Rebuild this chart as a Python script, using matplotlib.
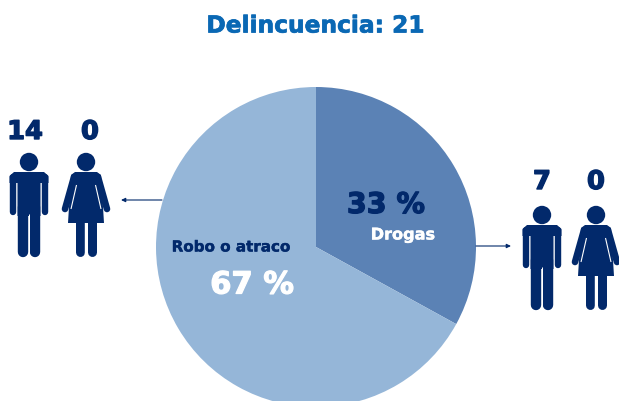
#!/usr/bin/env python3

import matplotlib
matplotlib.use('Agg')
import matplotlib.pyplot as plt
import matplotlib.patheffects as pe
from matplotlib.patches import Circle, Polygon

W = 619
H = 401
NAVY = '#02296b'

title = 'Delincuencia: 21'
categories = ['Drogas', 'Robo o atraco']
shares = [33, 67]
men = [7, 14]
women = [0, 0]
slice_colors = ['#5b82b5', '#95b6d8']

FONT = 'DejaVu Sans'


def py(y):
    # picture pixels run downwards, the axes upwards
    return H - y


def stroke(ax, pts, width, color=NAVY, cap='round'):
    ax.plot([p[0] for p in pts], [py(p[1]) for p in pts], color=color,
            lw=width * 0.72, solid_capstyle=cap, zorder=5)


def draw_man(ax, cx, cy):
    ax.add_patch(Circle((cx, py(cy)), 9.2, fc=NAVY, ec='none', zorder=5))
    torso = [(-15, 10), (15, 10), (19.5, 14), (19.5, 21), (11.5, 21), (11.5, 54), (-11.5, 54), (-11.5, 21), (-19.5, 21), (-19.5, 14)]
    ax.add_patch(Polygon([(cx + x, py(cy + y)) for x, y in torso], fc=NAVY, ec='none', zorder=5))
    for side in (-1, 1):
        stroke(ax, [(cx + side * 16.3, cy + 15), (cx + side * 16.3, cy + 50)], 6.4)
        stroke(ax, [(cx + side * 5.7, cy + 45), (cx + side * 5.7, cy + 90)], 10.4)
    stroke(ax, [(cx, cy + 52), (cx, cy + 96)], 1.0, color='white', cap='butt')


def draw_woman(ax, cx, cy):
    ax.add_patch(Circle((cx, py(cy)), 9.2, fc=NAVY, ec='none', zorder=5))
    dress = [(-11, 10), (11, 10), (15, 13), (18, 61), (-18, 61), (-15, 13)]
    ax.add_patch(Polygon([(cx + x, py(cy + y)) for x, y in dress], fc=NAVY, ec='none', zorder=5))
    for side in (-1, 1):
        stroke(ax, [(cx + side * 12, cy + 15), (cx + side * 21, cy + 47)], 6.6)
        stroke(ax, [(cx + side * 5.8, cy + 55), (cx + side * 5.8, cy + 90)], 9)
        stroke(ax, [(cx + side * 9.5, cy + 23), (cx + side * 15, cy + 47)], 1.1, color='white', cap='butt')
    stroke(ax, [(cx, cy + 61), (cx, cy + 96)], 2.4, color='white', cap='butt')


def arrow(ax, x0, x1, y):
    ax.annotate('', xy=(x1, py(y)), xytext=(x0, py(y)),
                arrowprops=dict(arrowstyle='-|>,head_width=0.12,head_length=0.25', color=NAVY,
                                lw=0.8, shrinkA=0, shrinkB=0))


def label(ax, x, y, s, size, color, heavy=0.5):
    t = ax.text(x, py(y), s, fontsize=size, color=color, fontweight='bold',
                family=FONT, ha='center', va='center', zorder=6)
    t.set_path_effects([pe.withStroke(linewidth=heavy, foreground=color)])


fig = plt.figure(figsize=(W / 100, H / 100), dpi=100)
ax = fig.add_axes([0, 0, 1, 1])

ax.pie(shares, colors=slice_colors, center=(316, py(247)), radius=160,
       startangle=90, counterclock=False, frame=True,
       wedgeprops=dict(linewidth=0))
ax.set_xlim(0, W)
ax.set_ylim(0, H)
ax.axis('off')

label(ax, 316, 26, title, 16.8, '#0a68b4')

label(ax, 386, 205, f'{shares[0]} %', 20.5, NAVY, 0.9)
label(ax, 403, 235, categories[0], 11.6, 'white', 0.3)
label(ax, 231, 247, categories[1], 10.9, NAVY, 0.3)
label(ax, 252, 285, f'{shares[1]} %', 22, 'white', 0.9)

label(ax, 25, 132, str(men[1]), 18.5, NAVY, 1.0)
label(ax, 90, 132, str(women[1]), 18.5, NAVY, 1.0)
label(ax, 542, 182, str(men[0]), 18.5, NAVY, 1.0)
label(ax, 596, 182, str(women[0]), 18.5, NAVY, 1.0)

draw_man(ax, 29, 162)
draw_woman(ax, 86, 162)
draw_man(ax, 542, 215)
draw_woman(ax, 596, 215)

arrow(ax, 162, 121, 200)
arrow(ax, 476, 511, 246)

fig.savefig('out.png', dpi=100)
